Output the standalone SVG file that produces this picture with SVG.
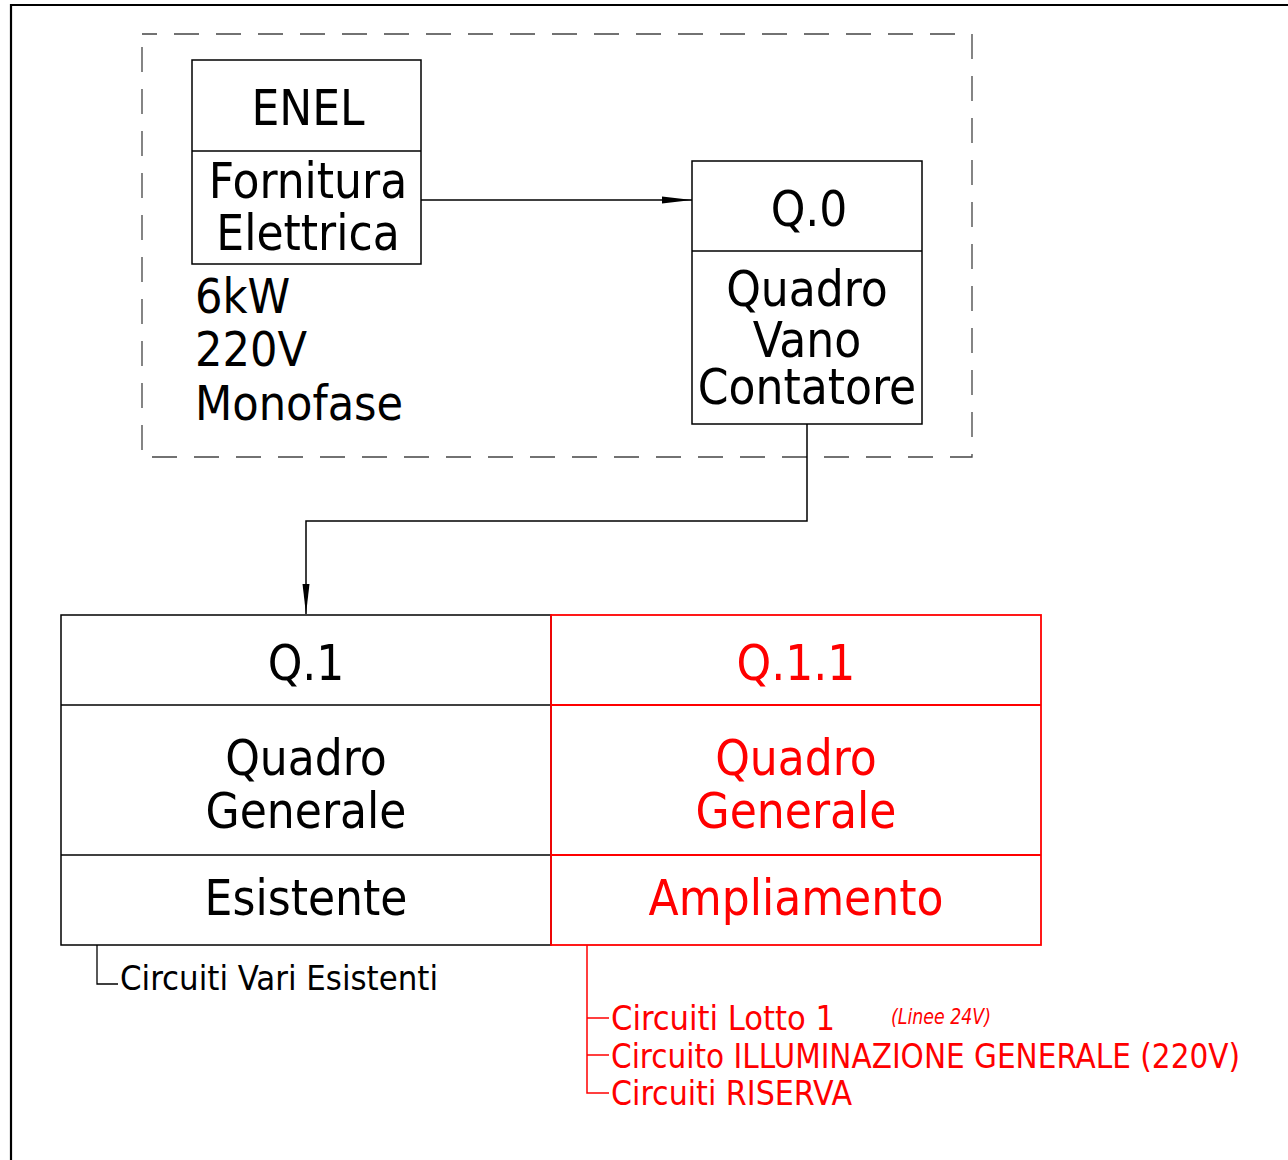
<svg xmlns="http://www.w3.org/2000/svg" width="1288" height="1160" viewBox="0 0 1288 1160">
<style>
text{font-family:"DejaVu Sans Condensed","DejaVu Sans",sans-serif;font-stretch:condensed;text-anchor:middle;}
.b{fill:none;stroke:#000;stroke-width:1.5}
.r{fill:none;stroke:#ff0000;stroke-width:1.8}
.t{font-size:49px;fill:#000}
.tr{font-size:49px;fill:#ff0000}
.s{font-size:33px;text-anchor:start}
.w{stroke:#000;stroke-width:1.5;fill:none}
</style>
<defs>
<marker id="ah" markerWidth="30" markerHeight="10" refX="30" refY="5" orient="auto" markerUnits="userSpaceOnUse">
<path d="M0,1.5 L30,5 L0,8.5 Z" fill="#000"/>
</marker>
</defs>
<rect x="0" y="0" width="1288" height="1160" fill="#fff"/>
<path d="M11,1160 V5 H1288" fill="none" stroke="#000" stroke-width="2.2"/>
<rect x="142" y="34" width="830" height="423" fill="none" stroke="#444" stroke-width="1.3" stroke-dasharray="25 17" stroke-dashoffset="10"/>

<g id="enel">
<rect class="b" x="192" y="60" width="229" height="204"/>
<line class="b" x1="192" y1="151" x2="421" y2="151"/>
<text class="t" x="308" y="125">ENEL</text>
<text class="t" x="308" y="198">Fornitura</text>
<text class="t" x="308" y="250">Elettrica</text>
</g>
<g id="enel-note">
<text class="t" x="195" y="313" style="text-anchor:start;font-size:48px">6kW</text>
<text class="t" x="195" y="366" style="text-anchor:start;font-size:48px">220V</text>
<text class="t" x="195" y="420" style="text-anchor:start;font-size:48px">Monofase</text>
</g>

<g id="q0">
<rect class="b" x="692" y="161" width="230" height="263"/>
<line class="b" x1="692" y1="251" x2="922" y2="251"/>
<text class="t" x="809" y="226">Q.0</text>
<text class="t" x="807" y="306">Quadro</text>
<text class="t" x="807" y="357">Vano</text>
<text class="t" x="807" y="404">Contatore</text>
</g>

<g id="q1">
<rect class="b" x="61" y="615" width="490" height="330"/>
<line class="b" x1="61" y1="705" x2="551" y2="705"/>
<line class="b" x1="61" y1="855" x2="551" y2="855"/>
<text class="t" x="306" y="680">Q.1</text>
<text class="t" x="306" y="775">Quadro</text>
<text class="t" x="306" y="828">Generale</text>
<text class="t" x="306" y="915">Esistente</text>
</g>

<g id="q11">
<rect class="r" x="551" y="615" width="490" height="330"/>
<line class="r" x1="551" y1="705" x2="1041" y2="705"/>
<line class="r" x1="551" y1="855" x2="1041" y2="855"/>
<text class="tr" x="796" y="680">Q.1.1</text>
<text class="tr" x="796" y="775">Quadro</text>
<text class="tr" x="796" y="828">Generale</text>
<text class="tr" x="796" y="915">Ampliamento</text>
</g>

<g id="circuiti-esistenti">
<path d="M97,945 V984 H118" fill="none" stroke="#000" stroke-width="1.3"/>
<text class="s" x="120" y="990" fill="#000" textLength="318" lengthAdjust="spacingAndGlyphs">Circuiti Vari Esistenti</text>
</g>

<g id="circuiti-ampliamento">
<path d="M587,945 V1093 H609 M587,1018 H609 M587,1055 H609" fill="none" stroke="#ff0000" stroke-width="1.5"/>
<text class="s" x="611" y="1030" fill="#ff0000" textLength="224" lengthAdjust="spacingAndGlyphs">Circuiti Lotto 1</text>
<text x="891" y="1024" fill="#ff0000" style="font-size:22px;font-style:italic;text-anchor:start" textLength="100" lengthAdjust="spacingAndGlyphs">(Linee 24V)</text>
<text class="s" x="611" y="1068" fill="#ff0000" textLength="629" lengthAdjust="spacingAndGlyphs">Circuito ILLUMINAZIONE GENERALE (220V)</text>
<text class="s" x="611" y="1105" fill="#ff0000" textLength="241" lengthAdjust="spacingAndGlyphs">Circuiti RISERVA</text>
</g>

<g id="connectors">
<line class="w" x1="421" y1="200" x2="692" y2="200" marker-end="url(#ah)"/>
<path class="w" d="M807,424 V521 H306 V614" marker-end="url(#ah)"/>
</g>
</svg>
